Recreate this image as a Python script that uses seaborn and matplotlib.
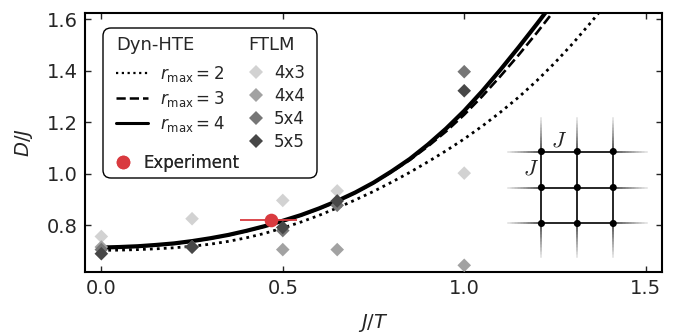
import matplotlib
matplotlib.use("Agg")
import matplotlib.pyplot as plt
import seaborn as sns
import numpy as np
import pandas as pd
from matplotlib.lines import Line2D
from matplotlib.patches import FancyBboxPatch
from matplotlib.collections import LineCollection

# ---------------- data ----------------
x_hte = [0.00, 0.05, 0.10, 0.15, 0.20, 0.25, 0.30, 0.35, 0.40, 0.45,
         0.50, 0.55, 0.60, 0.65, 0.70, 0.75, 0.80, 0.85, 0.90, 0.95,
         1.00, 1.05, 1.10, 1.15, 1.20, 1.25, 1.30, 1.35, 1.40]
d_r2 = [0.703, 0.704, 0.706, 0.709, 0.713, 0.719, 0.727, 0.738, 0.752, 0.769,
        0.790, 0.813, 0.839, 0.868, 0.899, 0.932, 0.968, 1.006, 1.047, 1.090,
        1.136, 1.186, 1.240, 1.298, 1.362, 1.432, 1.508, 1.590, 1.676]
d_r3 = [0.714, 0.715, 0.718, 0.723, 0.729, 0.738, 0.749, 0.762, 0.778, 0.796,
        0.817, 0.839, 0.865, 0.894, 0.927, 0.965, 1.008, 1.054, 1.107, 1.165,
        1.230, 1.302, 1.380, 1.462, 1.548, 1.638]
d_r4 = [0.714, 0.716, 0.719, 0.724, 0.730, 0.739, 0.750, 0.763, 0.779, 0.797,
        0.818, 0.840, 0.866, 0.895, 0.928, 0.966, 1.010, 1.058, 1.114, 1.176,
        1.245, 1.322, 1.405, 1.492, 1.582, 1.675]

ftlm_x = [0.0, 0.25, 0.5, 0.65, 1.0]
ftlm_4x3 = [0.757, 0.826, 0.897, 0.934, 1.003]
ftlm_4x4 = [0.716, 0.716, 0.706, 0.706, 0.645]
ftlm_5x4 = [0.706, 0.716, 0.780, 0.878, 1.397]
ftlm_5x5 = [0.690, 0.716, 0.792, 0.895, 1.323]
ftlm_labels = ["4x3", "4x4", "5x4", "5x5"]
ftlm_colors = ["#d2d2d2", "#a2a2a2", "#767676", "#474747"]

exp_x = 0.468
exp_y = 0.820
exp_xerr_lo = 0.087
exp_xerr_hi = 0.071
red = "#d93a3f"

hte_labels = [r"$r_{\rm max}=2$", r"$r_{\rm max}=3$", r"$r_{\rm max}=4$"]

# lattice sketch geometry (decoration)
lattice_nodes = [0, 1, 2]

# ---------------- style ----------------
sns.set_style("ticks", {"xtick.direction": "in", "ytick.direction": "in"})
plt.rcParams["font.family"] = ["DejaVu Sans"]
plt.rcParams["mathtext.fontset"] = "dejavusans"

W, H = 688, 335
fig = plt.figure(figsize=(W / 100, H / 100), dpi=100)
ax = fig.add_axes([85 / W, 1 - 272 / H, 577 / W, 259 / H])

dot_ls = (0, (1, 1.5))
dash_ls = (0, (3.7, 1.6))

# curves
sns.lineplot(x=x_hte, y=d_r2, ax=ax, color="black", lw=2.0,
             linestyle=dot_ls, zorder=2, sort=False)
sns.lineplot(x=x_hte[:len(d_r3)], y=d_r3, ax=ax, color="black", lw=1.9,
             linestyle=dash_ls, zorder=2, sort=False)
sns.lineplot(x=x_hte[:len(d_r4)], y=d_r4, ax=ax, color="black", lw=3.0,
             linestyle="-", zorder=2.1, sort=False)

# FTLM diamonds
for vals, col in zip([ftlm_4x3, ftlm_4x4, ftlm_5x4, ftlm_5x5], ftlm_colors):
    sns.scatterplot(x=ftlm_x, y=vals, ax=ax, marker="D", s=48, color=col,
                    edgecolor="none", linewidth=0, zorder=3)

# experiment
ax.errorbar([exp_x], [exp_y], xerr=[[exp_xerr_lo], [exp_xerr_hi]], fmt="o",
            ms=9.8, color=red, ecolor=red, elinewidth=1.3, capsize=0,
            markeredgewidth=0, zorder=4)

ax.set_xlim(-0.045, 1.545)
ax.set_ylim(0.619, 1.625)
ax.set_xticks([0.0, 0.5, 1.0, 1.5])
ax.set_xticklabels(["0.0", "0.5", "1.0", "1.5"])
ax.set_yticks([0.8, 1.0, 1.2, 1.4, 1.6])
ax.set_yticklabels(["0.8", "1.0", "1.2", "1.4", "1.6"])
ax.tick_params(axis="both", which="both", direction="in", top=True, right=True,
               length=4, width=1, labelsize=14, pad=5)
for sp in ax.spines.values():
    sp.set_linewidth(1.5)
    sp.set_color("black")
ax.set_xlabel(r"$J/T$", fontsize=14, labelpad=10)
ax.set_ylabel(r"$D/J$", fontsize=14, labelpad=9)

# ---------------- legend ----------------
frame = FancyBboxPatch((103 / 100, (H - 178) / 100), 214 / 100, 150 / 100,
                       boxstyle="round,pad=0,rounding_size=0.08",
                       transform=fig.dpi_scale_trans, facecolor="white",
                       edgecolor="black", linewidth=1.0, zorder=5)
ax.add_patch(frame)

def ax_frac(px, py):
    return ((px - 85) / 577, (272 - py) / 259)

fs = 12
h1 = [Line2D([], [], color="black", lw=1.6, linestyle=(0, (1, 1.6))),
      Line2D([], [], color="black", lw=1.8, linestyle=dash_ls),
      Line2D([], [], color="black", lw=2.2, linestyle="-")]
leg1 = ax.legend(h1, hte_labels, loc="upper left", bbox_to_anchor=ax_frac(116, 41),
                 frameon=False, fontsize=fs, title="Dyn-HTE", title_fontsize=13,
                 alignment="left", handlelength=1.92, handletextpad=0.72,
                 borderpad=0, borderaxespad=0, labelspacing=0.3)
leg1.get_title().set_y(5.5)
leg1.set_zorder(6)
ax.add_artist(leg1)

h2 = [Line2D([], [], marker="D", linestyle="none", color=c, ms=7.0, mew=0)
      for c in ftlm_colors]
leg2 = ax.legend(h2, ftlm_labels, loc="upper left", bbox_to_anchor=ax_frac(248, 41),
                 frameon=False, fontsize=fs, title="FTLM", title_fontsize=13,
                 alignment="left", handlelength=1.0, handletextpad=0.55,
                 borderpad=0, borderaxespad=0, labelspacing=0.3)
leg2.get_title().set_y(5.5)
leg2.set_zorder(6)
ax.add_artist(leg2)

h3 = [Line2D([], [], marker="o", linestyle="none", color=red, ms=9.8, mew=0)]
leg3 = ax.legend(h3, ["Experiment"], loc="upper left", bbox_to_anchor=ax_frac(116, 154),
                 frameon=False, fontsize=fs, handlelength=0.8, handletextpad=0.82,
                 borderpad=0, borderaxespad=0)
leg3.set_zorder(6)
ax.add_artist(leg3)

# ---------------- lattice inset ----------------
ext = 0.968
iax = fig.add_axes([506.7 / W, 1 - 258.3 / H, 141.3 / W, 141.6 / H])
iax.set_xlim(-ext, 2 + ext)
iax.set_ylim(-ext, 2 + ext)
iax.axis("off")
iax.patch.set_alpha(0)
lo, hi = lattice_nodes[0], lattice_nodes[-1]
for n in lattice_nodes:
    iax.plot([lo, hi], [n, n], color="#151515", lw=1.3, zorder=2)
    iax.plot([n, n], [lo, hi], color="#151515", lw=1.3, zorder=2)
nseg = 24
segs, cols = [], []
for n in lattice_nodes:
    for k in range(nseg):
        t0, t1 = k / nseg, (k + 1) / nseg
        g = 0.25 + 0.7 * t0
        for (a0, a1) in [(lo - t0 * ext, lo - t1 * ext), (hi + t0 * ext, hi + t1 * ext)]:
            segs.append([(a0, n), (a1, n)])
            cols.append((g, g, g))
            segs.append([(n, a0), (n, a1)])
            cols.append((g, g, g))
iax.add_collection(LineCollection(segs, colors=cols, linewidths=1.3, zorder=1))
for yy in lattice_nodes:
    sns.scatterplot(x=lattice_nodes, y=[yy] * 3, ax=iax, color="black", s=26,
                    edgecolor="none", zorder=3)
iax.text(0.5, 2.3, r"$J$", fontsize=16, ha="center", va="center", math_fontfamily="cm")
iax.text(-0.28, 1.54, r"$J$", fontsize=16, ha="center", va="center", math_fontfamily="cm")

fig.savefig("out.png", dpi=100)
